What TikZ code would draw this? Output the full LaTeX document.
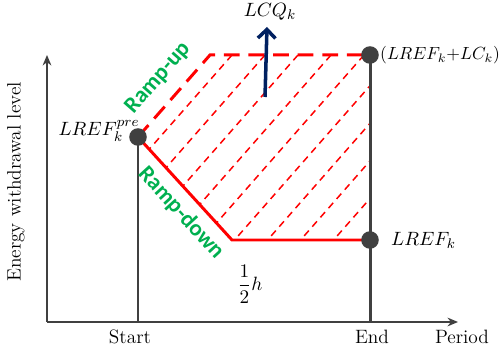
\documentclass[tikz,border=0pt]{standalone}
\usepackage{amsmath}
\usepackage{fontspec}
\newfontfamily\rampfont{Carlito}
\usetikzlibrary{arrows.meta}
\definecolor{axisgray}{RGB}{64,64,64}
\definecolor{rampred}{RGB}{255,0,0}
\definecolor{rampgreen}{RGB}{0,176,80}
\definecolor{lcqblue}{RGB}{0,32,96}

\begin{document}
\begin{tikzpicture}[x=0.02cm,y=-0.02cm,
	lvl/.style={draw=axisgray,line width=1.7pt},
	axisline/.style={draw=axisgray,line width=0.9pt,-{Stealth[length=6pt,width=5pt]}},
	dot/.style={circle,fill=axisgray,inner sep=0pt,minimum size=10pt},
	rmp/.style={text=rampgreen,font=\rampfont\bfseries\fontsize{13}{15}\selectfont},
	lbl/.style={font=\fontsize{11}{13}\selectfont}]
			\useasboundingbox (0,0) rectangle (499,350);
			% corners of the band
			\coordinate (o) at (47,322);
			\coordinate (xend) at (458,322);
			\coordinate (ytop) at (47,55);
			\coordinate (start) at (138,322);
			\coordinate (end) at (370,322);
			\coordinate (pre) at (138,137);
			\coordinate (topL) at (210,55);
			\coordinate (topR) at (370,55);
			\coordinate (ref) at (370,240);
			\coordinate (low) at (232,240);
			\coordinate (qlo) at (265,97);
			\coordinate (qhi) at (267,27);

			\draw[axisline] (o) -- (xend);
			\draw[axisline] (o) -- (ytop);

			\begin{scope}
			\clip (pre) -- (topL) -- (topR) -- (ref) -- (low) -- cycle;
			\foreach \t in {232,265,...,529}
			\draw[rampred,line width=0.85pt,dash pattern=on 4pt off 3pt] (\t,55) -- ++(-216,246);
			\end{scope}

			\draw[lvl] (start) -- (pre);
			\draw[lvl] (end) -- (topR);

			\begin{scope}[draw=rampred,line width=1.7pt]
			\draw (pre) -- (low) -- (ref);
			\draw[dash pattern=on 9pt off 5pt] (pre) -- (topL) -- (topR);
			\end{scope}

			\node[dot] (dpre) at (pre) {};
			\node[dot] (dtop) at (topR) {};
			\node[dot] (dref) at (ref) {};

			\draw[draw=lcqblue,line width=2pt,-{Straight Barb[length=5pt,width=10pt]}] (qlo) -- (qhi);

			\node[rmp,rotate=48.7] (up) at (158,78) {Ramp-up};
			\node[rmp,rotate=-47.6] (down) at (181,213) {Ramp-down};

			\node[lbl] (lpre) at (99,131) {$LREF_k^{pre}$};
			\node[lbl,anchor=west,font=\fontsize{10.2}{12}\selectfont] (lsum) at (374,55) {$(LREF_k{+}LC_k)$};
			\node[lbl,anchor=west] (lref) at (385,240) {$LREF_k$};
			\node[lbl] (lcq) at (270,12) {$LCQ_k$};
			\node[lbl] (half) at (250,284) {$\dfrac{1}{2}h$};
			\node[lbl] (lstart) at (130,337) {Start};
			\node[lbl] (lend) at (372,337) {End};
			\node[lbl] (lper) at (462,337) {Period};
			\node[lbl,rotate=90] (ylab) at (16,182) {Energy withdrawal level};
\end{tikzpicture}
\end{document}
